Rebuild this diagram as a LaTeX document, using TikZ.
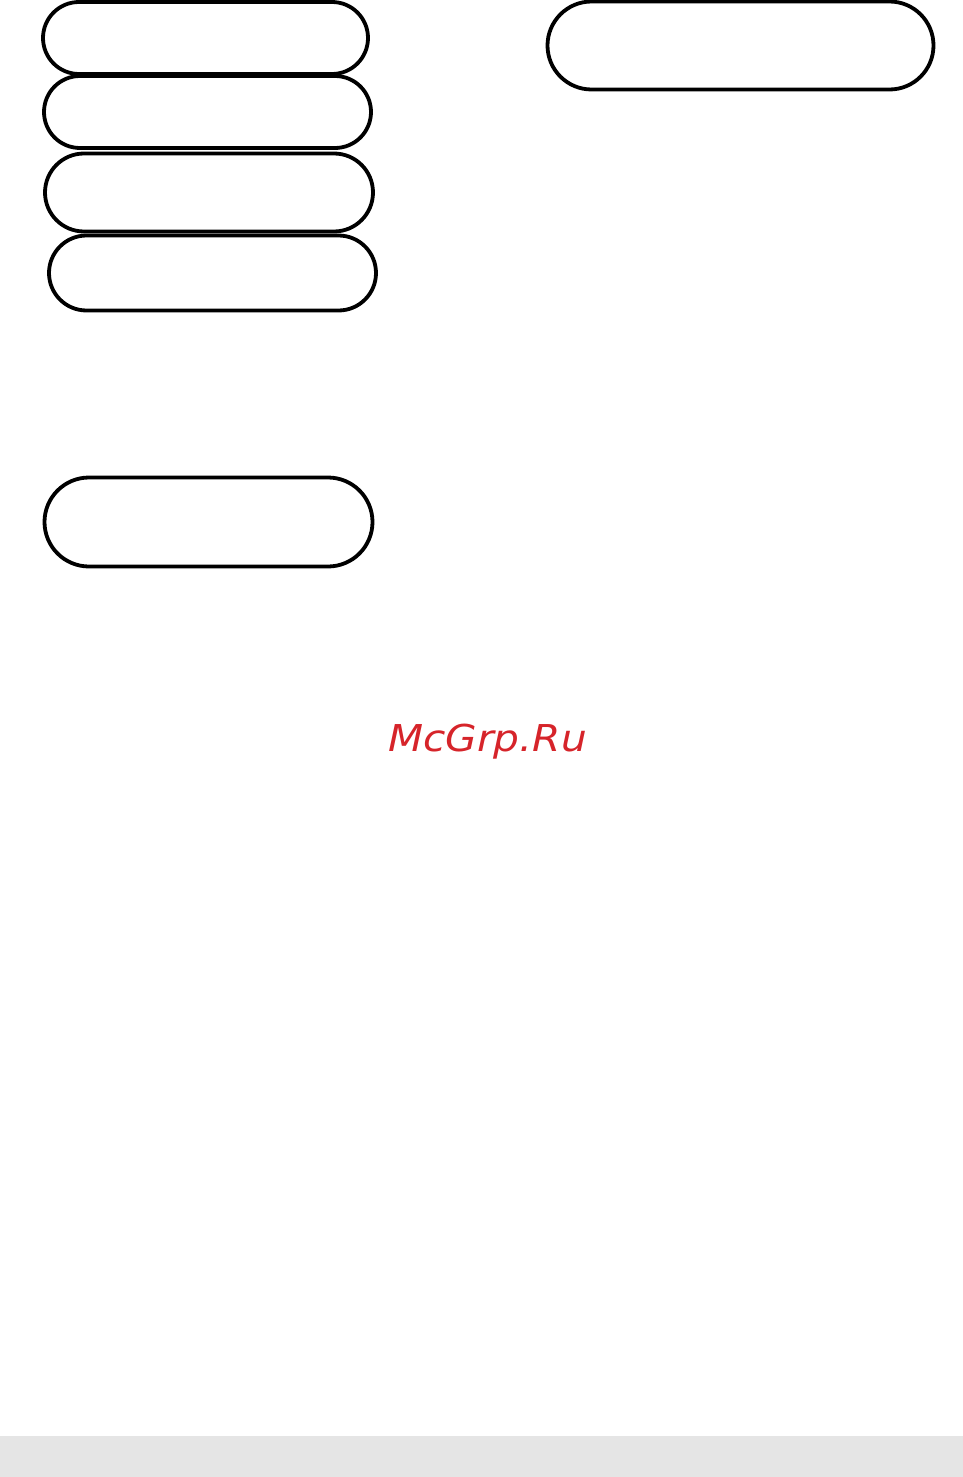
\documentclass[tikz,border=0pt]{standalone}
\usepackage{fontspec}
\usepackage{xcolor}
\usetikzlibrary{shapes.misc}
\setmainfont{DejaVu Sans}
\definecolor{markRed}{RGB}{214, 36, 42}
\definecolor{barGray}{RGB}{229, 229, 229}

\begin{document}
\begin{tikzpicture}[x=1pt,y=-1pt,
  pill/.style={rounded rectangle, draw=black, line width=3.8pt, inner sep=0pt}]
\useasboundingbox (0,0) rectangle (963,1477);

% Stacked pills on the left
\node[pill, minimum width=325pt, minimum height=72pt] (pillA) at (205.5,38) {};
\node[pill, minimum width=327pt, minimum height=72pt] (pillB) at (207.5,112) {};
\node[pill, minimum width=328pt, minimum height=78pt] (pillC) at (209,192.5) {};
\node[pill, minimum width=327pt, minimum height=75pt] (pillD) at (212.5,273) {};

% Single pill top right
\node[pill, minimum width=386pt, minimum height=88pt] (pillE) at (740.5,45.5) {};

% Lower pill
\node[pill, minimum width=328pt, minimum height=89pt] (pillF) at (208.5,522) {};

% Watermark
\node[text=markRed, font=\itshape\fontsize{37}{40}\selectfont, inner sep=0pt, anchor=base west] (mark) at (388,751) {\scalebox{1.1}[1]{McGrp.Ru}};

% Bottom bar
\fill[barGray] (0,1436) rectangle (963,1477);
\end{tikzpicture}
\end{document}
